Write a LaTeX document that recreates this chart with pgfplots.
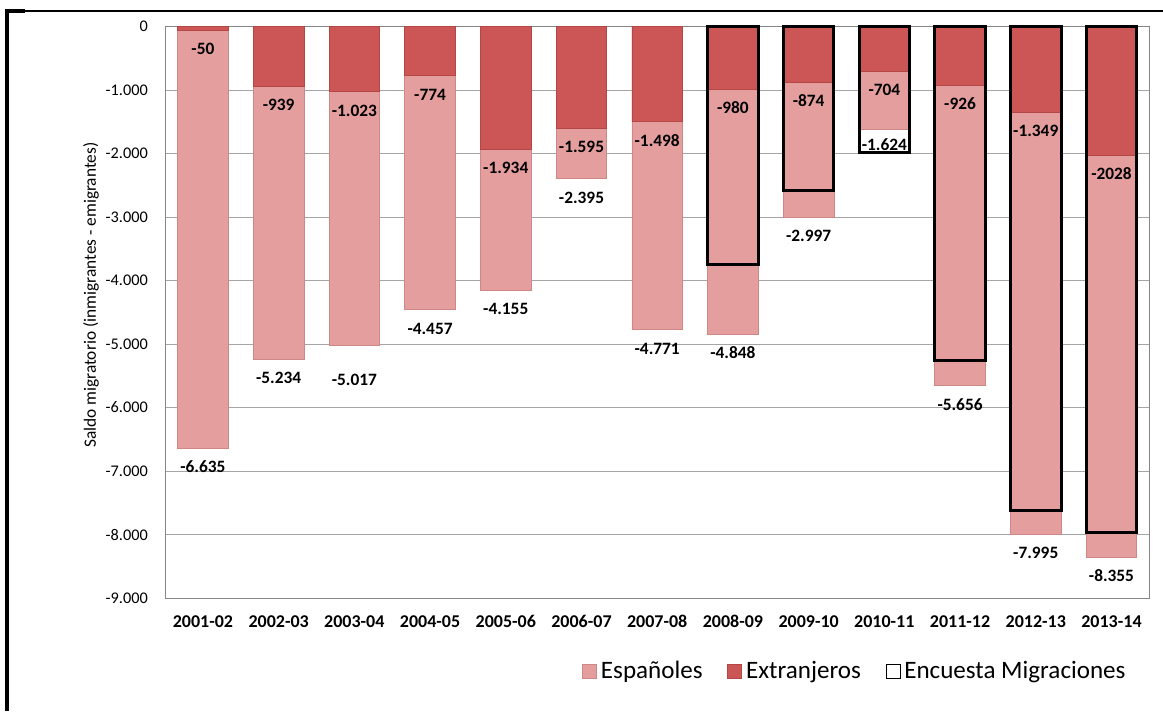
\documentclass[border=0pt]{standalone}
\usepackage{fontspec}
\setmainfont{Carlito}
\usepackage{pgfplots}
\pgfplotsset{compat=1.18}
\usepackage{pgfplotstable}

\definecolor{espcol}{RGB}{228,158,158}
\definecolor{espedge}{RGB}{205,135,135}
\definecolor{extcol}{RGB}{204,85,85}
\definecolor{extedge}{RGB}{180,70,70}
\definecolor{gridcol}{RGB}{165,165,165}
\definecolor{axcol}{RGB}{134,134,134}

% x, total (Espanoles + Extranjeros), Extranjeros, labels
\pgfplotstableread{
x tot ext ltot lext
0 -6635 -50 -6.635 -50
1 -5234 -939 -5.234 -939
2 -5017 -1023 -5.017 -1.023
3 -4457 -774 -4.457 -774
4 -4155 -1934 -4.155 -1.934
5 -2395 -1595 -2.395 -1.595
6 -4771 -1498 -4.771 -1.498
7 -4848 -980 -4.848 -980
8 -2997 -874 -2.997 -874
9 -1624 -704 -1.624 -704
10 -5656 -926 -5.656 -926
11 -7995 -1349 -7.995 -1.349
12 -8355 -2028 -8.355 -2028
}\datatable

\pgfplotstableread{
x enc
7 -3743
8 -2588
9 -1990
10 -5255
11 -7624
12 -7971
}\enctable

\begin{document}
\begin{tikzpicture}
\useasboundingbox (0pt,0pt) rectangle (872.25pt,533.25pt);
\draw[line width=1.1pt] (5.25pt,525pt) -- (872.25pt,525pt);
\draw[line width=2.3pt] (5.25pt,0pt) -- (5.25pt,525.5pt);
\draw[line width=2.3pt] (4.1pt,525pt) -- (18.75pt,525pt);
\begin{axis}[
  at={(123.8pt,84.75pt)}, anchor=south west,
  scale only axis, width=738.2pt, height=428.5pt,
  xmin=-0.5, xmax=12.5, ymin=-9000, ymax=0,
  enlargelimits=false, clip=false,
  ybar, bar width=37.9pt,
  axis line style={axcol, line width=0.6pt},
  ymajorgrids, grid style={gridcol, line width=0.6pt},
  xtick={0,...,12},
  xticklabels={2001-02,2002-03,2003-04,2004-05,2005-06,2006-07,2007-08,2008-09,2009-10,2010-11,2011-12,2012-13,2013-14},
  ytick={-9000,-8000,-7000,-6000,-5000,-4000,-3000,-2000,-1000,0},
  yticklabels={-9.000,-8.000,-7.000,-6.000,-5.000,-4.000,-3.000,-2.000,-1.000,0},
  major tick length=0pt,
  xticklabel style={font=\bfseries\fontsize{13.5}{16}\selectfont, anchor=north, inner sep=0pt, yshift=-12.75pt},
  yticklabel style={font=\fontsize{12.2}{14}\selectfont, anchor=east, inner sep=0pt, xshift=-12.75pt},
  ylabel={Saldo migratorio (inmigrantes - emigrantes)},
  every axis y label/.style={at={(axis description cs:-0.0753,0.530)}, rotate=90, anchor=center, font=\fontsize{13}{15}\selectfont},
  legend columns=3,
  legend style={at={(axis description cs:0.4235,-0.1278)}, anchor=west, draw=none, fill=none, inner sep=0pt,
    font=\fontsize{18.8}{20}\selectfont, nodes={inner xsep=3pt, inner ysep=0pt},
    /tikz/every even column/.append style={column sep=15.5pt}},
  legend image code/.code={\draw[#1, line width=0.6pt] (0pt,-5.25pt) rectangle (10.5pt,5.25pt);},
]
\addplot[fill=espcol, draw=espedge, line width=0.5pt, bar shift=0pt,
  nodes near coords, point meta=explicit symbolic,
  every node near coord/.append style={font=\bfseries\fontsize{13}{15}\selectfont, inner sep=0pt, yshift=-18.75pt, black},
  coordinate style/.condition={\coordindex==2}{yshift=-11.6pt},
  coordinate style/.condition={\coordindex==9}{yshift=2.6pt}]
  table[x=x, y=tot, meta=ltot] {\datatable};
\addlegendentry{Españoles}
\addplot[fill=extcol, draw=extedge, line width=0.5pt, bar shift=0pt,
  nodes near coords, point meta=explicit symbolic,
  every node near coord/.append style={font=\bfseries\fontsize{13}{15}\selectfont, inner sep=0pt, yshift=-18.75pt, black}]
  table[x=x, y=ext, meta=lext] {\datatable};
\addlegendentry{Extranjeros}
\addplot[fill=none, draw=black, line width=2.25pt, bar shift=0pt]
  table[x=x, y=enc] {\enctable};
\addlegendentry{Encuesta Migraciones}
\end{axis}
\end{tikzpicture}
\end{document}
